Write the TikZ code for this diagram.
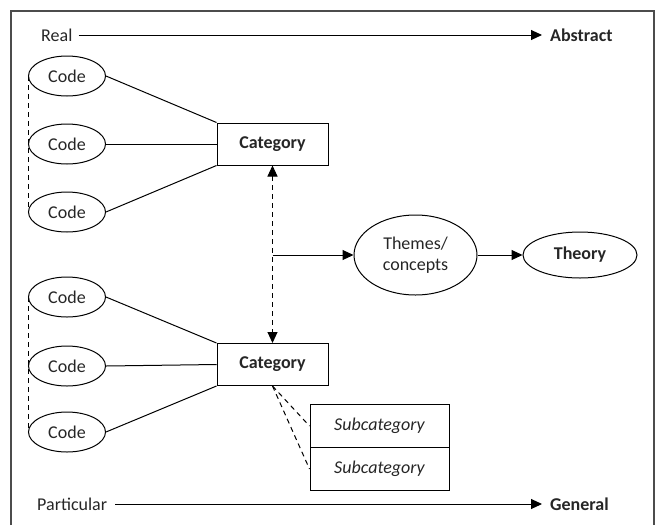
\documentclass[tikz,border=0pt]{standalone}
\usepackage{fontspec}
\setmainfont{Carlito}
\usetikzlibrary{arrows.meta,shapes.geometric}
\begin{document}
\begin{tikzpicture}[x=1pt,y=-1pt,
  every node/.style={font=\fontsize{18}{21}\selectfont, text=black!85},
  code/.style={ellipse,draw,line width=1pt,minimum width=77pt,minimum height=40pt,inner sep=0pt},
  catbox/.style={draw,line width=1pt,minimum width=111pt,minimum height=42pt,font=\fontsize{18}{21}\selectfont\bfseries},
  subbox/.style={draw,line width=1pt,minimum width=139pt,minimum height=43pt,font=\fontsize{18}{21}\selectfont\itshape},
  link/.style={line width=1pt},
  dlink/.style={line width=1pt,dash pattern=on 5pt off 4pt},
  tip/.style={line width=1pt,-{Triangle[length=11pt,width=10pt]}},
  lbl/.style={inner sep=0pt,anchor=west},
  blbl/.style={inner sep=0pt,anchor=west,font=\fontsize{18}{21}\selectfont\bfseries},
]
\useasboundingbox (0,0) rectangle (660,525);
\draw[line width=1.5pt, gray!60!black] (11,525) -- (11,11) -- (654,11) -- (654,525);

% axes
\node[lbl] (real) at (41,35) {Real};
\node[blbl] (abs) at (550,35) {Abstract};
\coordinate (realtip) at (542,35);
\draw[tip] ([xshift=6pt]real.east) -- (realtip);

\node[lbl] (part) at (37,504) {Particular};
\node[blbl] (gen) at (550,504) {General};
\coordinate (parttip) at (542,504);
\draw[tip] ([xshift=8pt]part.east) -- (parttip);

% upper group
\node[code] (c1) at (67,76) {Code};
\node[code] (c2) at (67,144) {Code};
\node[code] (c3) at (67,212) {Code};
\node[catbox] (cat1) at (272.5,144) {Category};
\draw[link] (c1.east) -- (cat1.north west);
\draw[link] (c2.east) -- (cat1.west);
\draw[link] (c3.east) -- (cat1.south west);
\draw[dlink] (c1.west) -- (c3.west);

% lower group
\node[code] (c4) at (67,297) {Code};
\node[code] (c5) at (67,366) {Code};
\node[code] (c6) at (67,432) {Code};
\node[catbox] (cat2) at (272.5,364.5) {Category};
\draw[link] (c4.east) -- (cat2.north west);
\draw[link] (c5.east) -- (cat2.west);
\draw[link] (c6.east) -- (cat2.south west);
\draw[dlink] (c4.west) -- (c6.west);

% subcategories
\node[subbox] (s1) at (379.5,426) {Subcategory};
\node[subbox] (s2) at (379.5,469) {Subcategory};
\draw[dlink] (cat2.south) -- (s1.west);
\draw[dlink] (cat2.south) -- (s2.west);

% vertical link between categories
\draw[dlink,{Triangle[length=11pt,width=10pt]}-{Triangle[length=11pt,width=10pt]}] (cat1.south) -- (cat2.north);

% themes and theory
\node[ellipse,draw,line width=1pt,minimum width=123pt,minimum height=80pt,inner sep=0pt,align=center] (themes) at (415.5,255) {Themes/\\concepts};
\node[ellipse,draw,line width=1pt,minimum width=114pt,minimum height=46pt,inner sep=0pt,font=\fontsize{18}{21}\selectfont\bfseries] (theory) at (580,255) {Theory};
\coordinate (mid) at (272.5,255);
\draw[tip] (mid) -- (themes.west);
\draw[tip] (themes.east) -- (theory.west);
\end{tikzpicture}
\end{document}
